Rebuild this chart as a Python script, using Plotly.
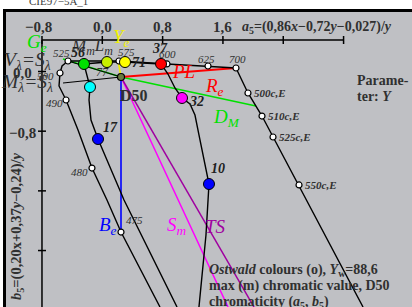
import plotly.graph_objects as go

# ---------------- data (a5, b5 chromaticity coordinates) ----------------
x_ticks = [-0.8, 0.0, 0.8, 1.6, 2.4, 3.2]
x_tick_labels = ["\u22120,8", "0,0", "0,8", "1,6", "", ""]
y_ticks = [0.0, -0.8, -1.6, -2.4]
y_tick_labels = ["0,0", "\u22120,8", "", ""]

# Ostwald colour loci (white points)
top_a = [-0.455, 0.221, 0.858, 1.402, 1.773]
top_b = [0.141, 0.141, 0.101, 0.074, 0.047]
top_lab = ["525", "575", "600", "625", "700"]

left_a = [-0.455, -0.534, -0.561, -0.574, -0.481, -0.322, -0.137, 0.062, 0.248, 0.765]
left_b = [0.141, 0.074, -0.020, -0.194, -0.382, -0.784, -1.294, -1.723, -2.152, -3.157]
left_pts_a = [-0.561, -0.481, -0.137, 0.248]
left_pts_b = [-0.020, -0.382, -1.294, -2.152]
left_pts_lab = ["500", "490", "480", "475"]

right_a = [1.773, 1.932, 2.118, 2.264, 2.609, 3.458]
right_b = [0.047, -0.288, -0.597, -0.878, -1.521, -3.157]
right_pts_a = [1.932, 2.118, 2.264, 2.609]
right_pts_b = [-0.288, -0.597, -0.878, -1.521]
right_pts_lab = ["500c,E", "510c,E", "525c,E", "550c,E"]

# maximum chroma colours (m)
max_a = [-0.243, 0.062, 0.301, 0.779, -0.163, 1.057, -0.057, 1.415]
max_b = [0.101, 0.127, 0.127, 0.101, -0.208, -0.355, -0.905, -1.508]
max_col = ["#00e000", "#c8f000", "#ffff00", "#ff0000", "#00ffff", "#ff00ff", "#0000ff", "#0000ff"]
max_line_a = [-0.243, 0.062, 0.301, 0.779]
max_line_b = [0.101, 0.127, 0.127, 0.101]

curve17_a = [-0.243, -0.216, -0.163, -0.176, -0.150, -0.057, 0.168, 0.288, 0.991]
curve17_b = [0.101, -0.007, -0.208, -0.382, -0.650, -0.905, -1.454, -1.722, -3.157]
curve10_a = [0.779, 0.871, 0.964, 1.057, 1.163, 1.229, 1.282, 1.415, 1.375, 1.282]
curve10_b = [0.101, -0.034, -0.221, -0.355, -0.436, -0.583, -0.851, -1.508, -2.192, -3.157]

d50 = (0.248, -0.074)
black_to_d50 = [(-0.455, 0.141), (-0.521, -0.154)]
green_line_a = [-0.521, 0.248, 2.038]
green_line_b = [0.168, -0.074, -0.462]
red_end = (1.773, 0.047)
yellow_end = (0.208, 0.154)
blue_end = (0.248, -2.152)
pink_end = (1.667, -3.157)
purple_end = (2.012, -3.157)

# ---------------- pixel <-> data helpers for layout ----------------
PX0, PXS = 102.3, 75.4
PY0, PYS = 71.5, 74.6
def X(px):
    return (px - PX0) / PXS
def Y(py):
    return (PY0 - py) / PYS

FONT = "Liberation Serif"
TXT = "#303030"

fig = go.Figure()

def line(a, b, color="black", width=1.4):
    fig.add_trace(go.Scatter(x=a, y=b, mode="lines", line=dict(color=color, width=width),
                             hoverinfo="skip"))

# coloured lines from D50
line([d50[0], pink_end[0]], [d50[1], pink_end[1]], "#ff00ff", 1.5)
line([d50[0], purple_end[0]], [d50[1], purple_end[1]], "#a000a0", 1.5)
line(green_line_a, green_line_b, "#00e000", 1.6)
line([d50[0], red_end[0]], [d50[1], red_end[1]], "#ff0000", 2)
line([d50[0], blue_end[0]], [d50[1], blue_end[1]], "#0000ff", 1.6)
line([yellow_end[0], d50[0]], [yellow_end[1], d50[1]], "#f0f000", 1.6)

# black loci
line(top_a, top_b, "black", 1.6)
line(left_a, left_b)
line(right_a, right_b)
line(max_line_a, max_line_b, "black", 1.6)
line(curve17_a, curve17_b)
line(curve10_a, curve10_b)
for p in black_to_d50:
    line([p[0], d50[0]], [p[1], d50[1]], "black", 1.2)

# white points
wa = top_a + left_pts_a + right_pts_a
wb = top_b + left_pts_b + right_pts_b
fig.add_trace(go.Scatter(x=wa, y=wb, mode="markers",
                         marker=dict(size=6, color="white", line=dict(color="black", width=1.2)),
                         hoverinfo="skip"))
# max chroma points
fig.add_trace(go.Scatter(x=max_a, y=max_b, mode="markers",
                         marker=dict(size=11, color=max_col, line=dict(color="black", width=1)),
                         hoverinfo="skip"))
fig.add_trace(go.Scatter(x=[d50[0]], y=[d50[1]], mode="markers",
                         marker=dict(size=7, color="#6a7a40", line=dict(color="black", width=1.2)),
                         hoverinfo="skip"))

ann = []
def text(t, px, py, size=14, color=TXT, xanchor="center", angle=0):
    ann.append(dict(text=t, x=X(px), y=Y(py), xref="x", yref="y", showarrow=False,
                    xanchor=xanchor, yanchor="middle", textangle=angle,
                    align="left" if xanchor == "left" else "center",
                    font=dict(family=FONT, size=size, color=color)))

# axes (drawn with the data scale)
shapes = []
shapes.append(dict(type="rect", xref="paper", yref="paper", x0=5/412, x1=1, y0=0, y1=1-11/307,
                   fillcolor="#bfc0c4", line=dict(width=0), layer="below"))
shapes.append(dict(type="line", xref="paper", yref="paper", x0=3/412, x1=1, y0=1-10.5/307, y1=1-10.5/307,
                   line=dict(color="black", width=3)))
shapes.append(dict(type="line", xref="paper", yref="paper", x0=4.5/412, x1=4.5/412, y0=0, y1=1-10.5/307,
                   line=dict(color="black", width=3)))
ytop = Y(40)
shapes.append(dict(type="line", xref="x", yref="y", x0=x_ticks[0], x1=x_ticks[-1], y0=ytop, y1=ytop,
                   line=dict(color="black", width=1.5)))
shapes.append(dict(type="line", xref="x", yref="y", x0=x_ticks[0], x1=x_ticks[0], y0=ytop, y1=Y(310),
                   line=dict(color="black", width=1.5)))
for v, lab in zip(x_ticks, x_tick_labels):
    shapes.append(dict(type="line", xref="x", yref="y", x0=v, x1=v, y0=ytop + 4/PYS, y1=ytop - 4/PYS,
                       line=dict(color="black", width=1.5)))
    if lab:
        ann.append(dict(text="<b>%s</b>" % lab, x=v - (3/PXS if lab.startswith("\u2212") else 0), y=Y(27),
                        xref="x", yref="y", showarrow=False,
                        font=dict(family=FONT, size=15, color=TXT)))
for v, lab in zip(y_ticks, y_tick_labels):
    shapes.append(dict(type="line", xref="x", yref="y", x0=x_ticks[0] - 4/PXS, x1=x_ticks[0] + 4/PXS,
                       y0=v, y1=v, line=dict(color="black", width=1.5)))
    if lab:
        ann.append(dict(text="<b>%s</b>" % lab, x=X(22), y=v - 1.5/PYS, xref="x", yref="y", showarrow=False,
                        font=dict(family=FONT, size=15, color=TXT)))

text("<b><i>a</i><sub>5</sub>=(0,86<i>x</i>\u22120,72<i>y</i>\u22120,027)/<i>y</i></b>", 240, 27, 14, xanchor="left")
text("<b><i>b</i><sub>5</sub>=(0,20x+0,37<i>y</i>\u22120,24)/<i>y</i></b>", 17, 226, 14.5, angle=-90)
text("CIE97\u22125A_1", 58, 1, 11, "#404040")

# labels
text("<i>G<sub>e</sub></i>", 37, 43, 19, "#00e000")
text("<i>Y<sub>e</sub></i>", 121, 38, 19, "#f0f000")
text("<i>V<sub>\u03bb</sub>=S<sub>\u03bb</sub></i>", 27, 61, 19.5)
text("<i>M<sub>\u03bb</sub>=S<sub>\u03bb</sub></i>", 27, 83, 19.5)
text("<i>M<sub>m</sub>L<sub>m</sub></i>", 92, 47, 17)
text("<i>575</i>", 126, 52, 11)
text("<i>525</i>", 61, 53, 11)
text("<b><i>56</i></b>", 78, 52, 14, "#202020")
text("<b><i>37</i></b>", 160, 48, 14, "#202020")
text("<i>600</i>", 167, 54, 11)
text("<i>625</i>", 206, 59, 11)
text("<i>700</i>", 237, 59, 11)
text("<b><i>71</i></b>", 139, 62, 14, "#202020")
text("<i>77</i>", 102, 72, 12)
text("<i>500</i>", 45, 76, 11)
text("<i>490</i>", 54, 103, 11)
text("<b>D50</b>", 134, 95, 16)
text("<i>PL</i>", 183, 71, 19, "#ff0000")
text("<i>R<sub>e</sub></i>", 214, 87, 19, "#ff0000")
text("<b><i>32</i></b>", 196, 101, 14, "#202020")
for a_, b_, lab in zip(right_pts_a, right_pts_b, right_pts_lab):
    ann.append(dict(text="<b><i>%s</i></b>" % lab, x=a_ + 4/PXS, y=b_, xref="x", yref="y",
                    showarrow=False, xanchor="left", align="left",
                    font=dict(family=FONT, size=11, color=TXT)))
text("<i>D<sub>M</sub></i>", 226, 118, 19, "#00e000")
text("<b>Parame-</b>", 355, 80, 14, xanchor="left")
text("<b>ter: <i>Y</i></b>", 355, 96, 14, xanchor="left")
text("<b><i>17</i></b>", 110, 127, 14, "#202020")
text("<i>480</i>", 79, 172, 11)
text("<b><i>10</i></b>", 218, 168, 14, "#202020")
text("<i>B<sub>e</sub></i>", 108, 226, 19, "#0000ff")
text("<i>475</i>", 134, 220, 11)
text("<i>S<sub>m</sub></i>", 177, 226, 19, "#ff00ff")
text("<i>TS</i>", 215, 226, 19, "#a000a0")
text("<b><i>Ostwald</i> colours (o), <i>Y</i><sub>w</sub>=88,6</b>", 207, 270, 14, xanchor="left")
text("<b>max (m) chromatic value, D50</b>", 207, 286, 14, xanchor="left")
text("<b>chromaticity (<i>a</i><sub>5</sub>, <i>b</i><sub>5</sub>)</b>", 207, 302, 14, xanchor="left")

fig.update_layout(width=412, height=307, margin=dict(l=0, r=0, t=0, b=0),
                  paper_bgcolor="white", plot_bgcolor="rgba(0,0,0,0)", showlegend=False,
                  xaxis=dict(range=[X(0), X(412)], visible=False, fixedrange=True),
                  yaxis=dict(range=[Y(307), Y(0)], visible=False, fixedrange=True),
                  shapes=shapes, annotations=ann)
fig.write_html("out.html", config={"displayModeBar": False},
               post_script="document.body.style.margin='0';document.body.style.overflow='hidden';")
